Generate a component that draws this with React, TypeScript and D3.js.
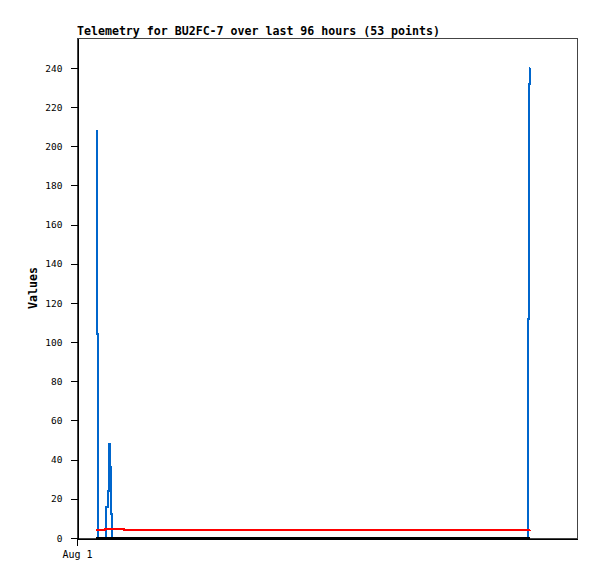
import * as d3 from "d3";
import { useEffect, useRef } from "react";

const WIDTH = 597;
const HEIGHT = 579;

const TITLE = "Telemetry for BU2FC-7 over last 96 hours (53 points)";
const Y_LABEL = "Values";

// hours after Aug 1 00:00 for each sample
const hours = [3.65, 3.9, 4.03, 5.38, 5.57, 5.95, 6.14, 6.39, 6.53, 6.72, 9.02, 86.5, 86.69, 86.88, 87.0];
const blueValues = [208, 104, 0, 0, 16, 24, 48, 36, 12, 0, 0, 112, 232, 240, 240];
const redValues = [4, 4, 4, 4.8, 4.8, 4.8, 4.8, 4.8, 4.8, 4.8, 4, 4, 4, 4, 4.1];
const blackValues = [0, 0, 0, 0, 0, 0, 0, 0, 0, 0, 0, 0, 0, 0, 0];

const yTicks = [0, 20, 40, 60, 80, 100, 120, 140, 160, 180, 200, 220, 240];
const startDate = new Date(2023, 7, 1, 0, 0, 0);
const endDate = new Date(2023, 7, 5, 0, 0, 0);

const FONT = "'DejaVu Sans Mono', monospace";

const App = () => {
  const svgRef = useRef(null);

  useEffect(() => {
    const margin = { top: 38, right: 20, bottom: 41, left: 77 };
    const w = WIDTH - margin.left - margin.right;
    const h = HEIGHT - margin.top - margin.bottom;

    const svg = d3.select(svgRef.current);
    svg.selectAll("*").remove();

    const x = d3.scaleTime().domain([startDate, endDate]).range([margin.left, margin.left + w]);
    const y = d3.scaleLinear().domain([0, 255.3]).range([margin.top + h, margin.top]);

    const toDate = (hr: number) => new Date(startDate.getTime() + hr * 3600 * 1000);

    // frame
    svg
      .append("rect")
      .attr("x", margin.left + 0.5)
      .attr("y", margin.top + 0.5)
      .attr("width", w)
      .attr("height", h)
      .attr("fill", "white")
      .attr("stroke", "#444")
      .attr("stroke-width", 1);

    const drawSeries = (values: number[], color: string) => {
      const line = d3
        .line<number>()
        .x((d, i) => x(toDate(hours[i])))
        .y((d) => y(d))
        .curve(d3.curveStepAfter);
      svg
        .append("path")
        .attr("d", line(values) as string)
        .attr("fill", "none")
        .attr("stroke", color)
        .attr("stroke-width", 2)
        .attr("shape-rendering", "crispEdges");
    };

    drawSeries(blueValues, "#0066cc");
    drawSeries(redValues, "#ff0000");
    drawSeries(blackValues, "#000000");

    // y axis
    const yAxis = svg
      .append("g")
      .attr("transform", `translate(${margin.left + 0.5},0)`)
      .call(
        d3
          .axisLeft(y)
          .tickValues(yTicks)
          .tickSize(7)
          .tickPadding(8)
          .tickSizeOuter(0)
      );
    yAxis.select(".domain").attr("stroke", "#000").attr("shape-rendering", "crispEdges");
    yAxis.selectAll(".tick line").attr("stroke", "#000").attr("shape-rendering", "crispEdges");
    yAxis
      .selectAll(".tick text")
      .attr("font-family", FONT)
      .attr("font-size", 9.5)
      .attr("fill", "#000");

    // x axis
    const xAxis = svg
      .append("g")
      .attr("transform", `translate(0,${margin.top + h + 0.5})`)
      .call(
        d3
          .axisBottom(x)
          .tickValues([startDate])
          .tickFormat((d) => d3.timeFormat("%b %-d")(d as Date))
          .tickSize(7)
          .tickPadding(5)
          .tickSizeOuter(0)
      );
    xAxis.select(".domain").attr("stroke", "#000").attr("shape-rendering", "crispEdges");
    xAxis.selectAll(".tick line").attr("stroke", "#000").attr("shape-rendering", "crispEdges");
    xAxis
      .selectAll(".tick text")
      .attr("font-family", FONT)
      .attr("font-size", 10)
      .attr("fill", "#000");

    // title
    svg
      .append("text")
      .attr("x", margin.left)
      .attr("y", 35)
      .attr("font-family", FONT)
      .attr("font-weight", "bold")
      .attr("font-size", 11.6)
      .attr("fill", "#000")
      .text(TITLE);

    // y label
    svg
      .append("text")
      .attr("transform", `translate(36.5,${margin.top + h / 2}) rotate(-90)`)
      .attr("text-anchor", "middle")
      .attr("font-family", FONT)
      .attr("font-weight", "bold")
      .attr("font-size", 11.6)
      .attr("fill", "#000")
      .text(Y_LABEL);
  }, []);

  return (
    <svg
      ref={svgRef}
      width={WIDTH}
      height={HEIGHT}
      style={{ position: "absolute", left: 0, top: 0, background: "white" }}
    ></svg>
  );
};

export default App;
